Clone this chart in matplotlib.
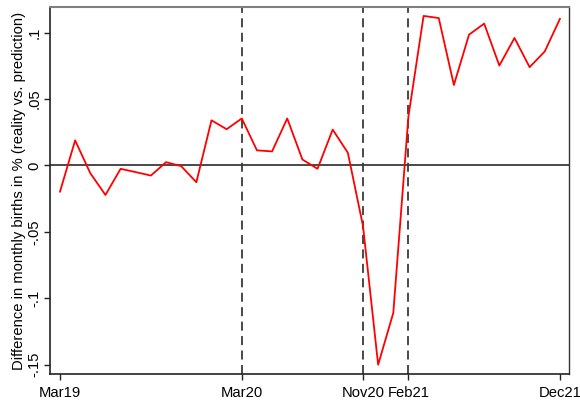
import matplotlib
matplotlib.use('Agg')
import matplotlib.pyplot as plt

plt.rcParams['font.family'] = ['Liberation Sans', 'DejaVu Sans']

# monthly gap between actual and predicted births, Mar 2019 - Dec 2021
months = list(range(34))
diff = [-0.0197, 0.0189, -0.0058, -0.0222, -0.0025, -0.0050, -0.0076, 0.0025,
        -0.0005, -0.0126, 0.0340, 0.0273, 0.0354, 0.0114, 0.0106, 0.0354,
        0.0045, -0.0025, 0.0270, 0.0096, -0.0455, -0.1500, -0.1110, 0.0370,
        0.1126, 0.1110, 0.0606, 0.0985, 0.1068, 0.0752, 0.0960, 0.0740,
        0.0859, 0.1104]

xtick_pos = [0, 12, 20, 23, 33]
xtick_labels = ['Mar19', 'Mar20', 'Nov20', 'Feb21', 'Dec21']
ytick_pos = [-0.15, -0.1, -0.05, 0, 0.05, 0.1]
ytick_labels = ['-.15', '-.1', '-.05', '0', '.05', '.1']
event_months = [12, 20, 23]

fig = plt.figure(figsize=(5.8, 4.05), dpi=100)
ax = fig.add_axes([0.0862, 0.0765, 0.8954, 0.9055])

ax.axhline(0, color='#3a3a3a', lw=1.3, zorder=1)
for m in event_months:
    ax.axvline(m, color='#3a3a3a', lw=1.3, ls=(0, (5, 3)), zorder=1)
ax.plot(months, diff, color='red', lw=1.3, zorder=2)

ax.set_xlim(-0.66, 33.62)
ax.set_ylim(-0.157, 0.1191)
ax.set_xticks(xtick_pos)
ax.set_xticklabels(xtick_labels, fontsize=10.6)
ax.set_yticks(ytick_pos)
ax.set_yticklabels(ytick_labels, fontsize=10.6, rotation=90, va='center')
ax.tick_params(axis='both', direction='out', length=4.5, width=1, color='#222222')
ax.tick_params(axis='x', pad=4)
ax.tick_params(axis='y', pad=1.5)

ax.set_ylabel('Difference in monthly births in % (reality vs. prediction)', fontsize=10.6, labelpad=1.5)

for s in ['left', 'bottom']:
    ax.spines[s].set_color('#222222')
    ax.spines[s].set_linewidth(1.2)
ax.spines['top'].set_color('#7f7f7f')
ax.spines['top'].set_linewidth(1.5)
ax.spines['right'].set_color('#333333')
ax.spines['right'].set_linewidth(1.0)

fig.savefig('out.png', dpi=100)
